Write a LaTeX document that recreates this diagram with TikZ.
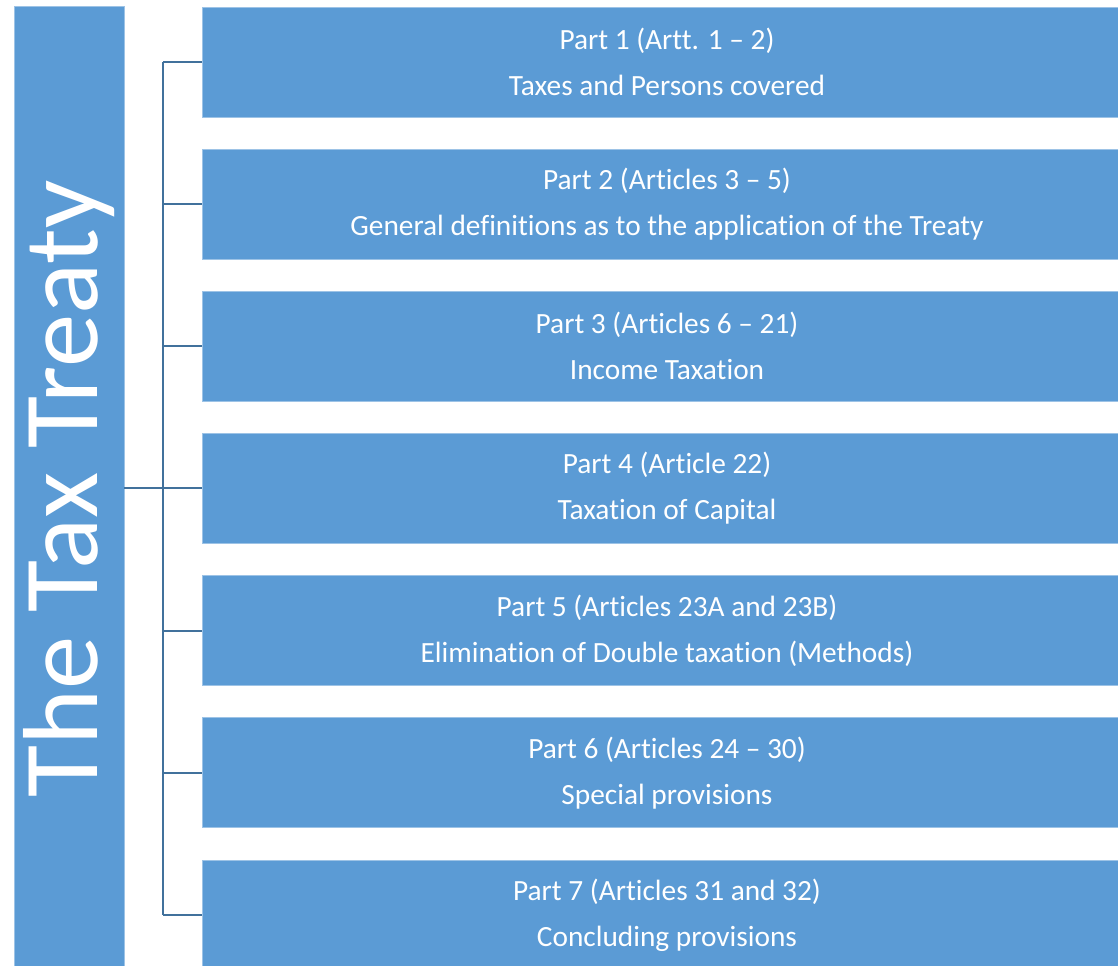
\documentclass[tikz,border=0pt]{standalone}
\usepackage{fontspec}
\setmainfont[Ligatures=NoCommon]{Carlito}
\usetikzlibrary{positioning}

\definecolor{partblue}{HTML}{5B9BD5}
\definecolor{linkblue}{HTML}{41719C}

\begin{document}
\begin{tikzpicture}[x=0.75pt,y=-0.75pt,node distance=106.6pt,on grid,
    part/.style={fill=partblue,draw=partblue!60!white,line width=0.4pt,
      text=white,minimum width=697.5pt,minimum height=82.5pt,
      align=center,font=\fontsize{22}{34.5}\selectfont},
    title/.style={fill=partblue,draw=partblue!60!white,line width=0.4pt,
      text=white,minimum width=82.5pt,minimum height=724.5pt,
      font=\fontsize{80}{96}\selectfont},
    link/.style={draw=linkblue,line width=1.5pt}]
   \useasboundingbox (0,0) rectangle (1118,966);
   \node[title] (treaty) at (69,489) {\rotatebox{90}{The Tax Treaty}};
   \node[part] (part1) at (667,62) {Part 1 (Artt. 1 -- 2)\\Taxes and Persons covered};
   \node[part] (part2) [below=of part1] {Part 2 (Articles 3 -- 5)\\General definitions as to the application of the Treaty};
   \node[part] (part3) [below=of part2] {Part 3 (Articles 6 -- 21)\\Income Taxation};
   \node[part] (part4) [below=of part3] {Part 4 (Article 22)\\Taxation of Capital};
   \node[part] (part5) [below=of part4] {Part 5 (Articles 23A and 23B)\\Elimination of Double taxation (Methods)};
   \node[part] (part6) [below=of part5] {Part 6 (Articles 24 -- 30)\\Special provisions};
   \node[part] (part7) [below=of part6] {Part 7 (Articles 31 and 32)\\Concluding provisions};
   \coordinate (spine) at (163,0);
   \draw[link] (spine |- part1) -- (spine |- part7);
   \draw[link] (treaty.east |- part4) -- (spine |- part4);
   \foreach \p in {1,...,7}
     \draw[link] (spine |- part\p) -- (part\p.west);
\end{tikzpicture}
\end{document}
